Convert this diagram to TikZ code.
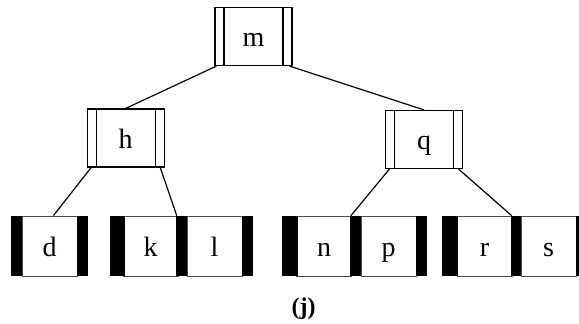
\documentclass[tikz,border=0pt]{standalone}
\usepackage{fontspec}
\setmainfont{Liberation Serif}
\usetikzlibrary{positioning}
\tikzset{
  keytext/.style={font=\fontsize{28}{32}\selectfont, text height=20pt, text depth=0pt},
  inode/.style={
    draw, line width=1.2pt, keytext, inner sep=0pt,
    minimum width=77pt, minimum height=58pt,
    % the two pointer slots of an internal node
    path picture={
      \draw[line width=1.2pt]
        ([xshift=9pt]path picture bounding box.south west) --
        ([xshift=9pt]path picture bounding box.north west);
      \draw[line width=1.2pt]
        ([xshift=-9pt]path picture bounding box.south east) --
        ([xshift=-9pt]path picture bounding box.north east);
    },
  },
  keycell/.style={draw=black!70, line width=1pt, keytext, inner sep=0pt,
                  minimum width=55pt, minimum height=60pt},
  ptrbar/.style ={fill=black, inner sep=0pt, minimum height=60pt},
  link/.style   ={draw, line width=1.2pt},
}
\begin{document}
\begin{tikzpicture}[x=1pt, y=-1pt]
\useasboundingbox (0,0) rectangle (579,324);

% ------------------------------------------------------------- internal nodes
\node[inode] (m) at (253.5,36.5) {m};
\node[inode] (h) at (125.7,138)  {h};
\node[inode] (q) at (424,139.5)  {q};

% ------------------------------------------------------------- leaves
\foreach \k/\x in {d/49.5, k/150.5, l/214.5, n/324, p/388.5, r/484.5, s/548.5}
  \node[keycell] (\k) at (\x,246) {\k};

% bars go on top, so they hide the ends of the key cells
\foreach \b/\x/\w in {bd0/16.5/11, bd1/82.5/11,
    bk0/117.5/15, kl/181.5/11, bl1/247.5/11,
    bn0/290/16,   np/355.5/11, bp1/421.5/11,
    br0/450/16,   rs/516/10,   bs1/581.5/11}
  \node[ptrbar, minimum width=\w pt] (\b) at (\x,246) {};

% ------------------------------------------------------------- links
\draw[link] ([xshift=2pt]m.south west)    -- (h.north);
\draw[link] ([xshift=-3pt]m.south east)   -- (q.north);
\draw[link] ([xshift=4.5pt]h.south west)  -- ([xshift=4pt]d.north);
\draw[link] ([xshift=-4.5pt]h.south east) -- ([xshift=1pt]kl.north west);
\draw[link] ([xshift=4.5pt]q.south west)  -- ([xshift=1pt]np.north west);
\draw[link] ([xshift=-4.5pt]q.south east) -- ([xshift=1pt]rs.north west);

% ------------------------------------------------------------- caption
\node[font=\fontsize{24}{28}\selectfont\bfseries, anchor=base] (cap) at (303.7,314) {(j)};

\end{tikzpicture}
\end{document}
